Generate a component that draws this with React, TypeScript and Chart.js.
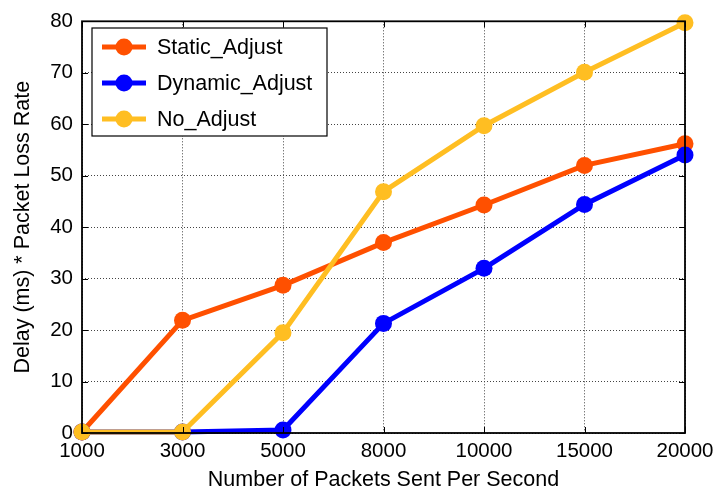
import React, { useEffect, useRef } from "react";
import { Chart, registerables } from "chart.js";

Chart.register(...registerables);

const categories = ["1000", "3000", "5000", "8000", "10000", "15000", "20000"];
const staticAdjust = [0.2, 21.9, 28.7, 37.0, 44.3, 52.0, 56.2];
const dynamicAdjust = [0.2, 0.2, 0.6, 21.3, 32.0, 44.4, 54.0];
const noAdjust = [0.2, 0.2, 19.5, 46.9, 59.7, 70.1, 79.7];
const seriesNames = ["Static_Adjust", "Dynamic_Adjust", "No_Adjust"];
const seriesColors = ["#ff5000", "#0000ff", "#ffbe22"];

const FONT = "'Liberation Sans', Arial, sans-serif";
const TICK_SIZE = 20.5;
const LABEL_SIZE = 21.5;

const framePlugin = {
  id: "frame",
  afterDatasetsDraw(chart: any) {
    const { ctx, chartArea } = chart;
    const { left, right, top, bottom } = chartArea;
    const xs = chart.scales.x;
    const ys = chart.scales.y;
    ctx.save();
    ctx.strokeStyle = "#000";
    ctx.lineWidth = 1;
    const tl = 6;
    ctx.beginPath();
    xs.ticks.forEach((_: any, i: number) => {
      const x = Math.round(xs.getPixelForTick(i)) + 0.5;
      ctx.moveTo(x, bottom);
      ctx.lineTo(x, bottom - tl);
      ctx.moveTo(x, top);
      ctx.lineTo(x, top + tl);
    });
    ys.ticks.forEach((_: any, i: number) => {
      const y = Math.round(ys.getPixelForTick(i)) + 0.5;
      ctx.moveTo(left, y);
      ctx.lineTo(left + tl, y);
      ctx.moveTo(right, y);
      ctx.lineTo(right - tl, y);
    });
    ctx.stroke();
    ctx.lineWidth = 1.8;
    ctx.strokeRect(left, top, right - left, bottom - top);
    ctx.restore();
  },
};

const legendPlugin = {
  id: "boxLegend",
  afterDraw(chart: any) {
    const { ctx } = chart;
    const x0 = 92;
    const y0 = 28;
    const w = 235;
    const h = 108;
    ctx.save();
    ctx.fillStyle = "#fff";
    ctx.fillRect(x0, y0, w, h);
    ctx.strokeStyle = "#000";
    ctx.lineWidth = 1.2;
    ctx.strokeRect(x0, y0, w, h);
    chart.data.datasets.forEach((ds: any, i: number) => {
      const cy = y0 + 19 + i * 36;
      ctx.strokeStyle = ds.borderColor;
      ctx.lineWidth = 5;
      ctx.beginPath();
      ctx.moveTo(102, cy);
      ctx.lineTo(146, cy);
      ctx.stroke();
      ctx.fillStyle = ds.borderColor;
      ctx.beginPath();
      ctx.arc(124, cy, 8.5, 0, Math.PI * 2);
      ctx.fill();
      ctx.fillStyle = "#000";
      ctx.font = `${LABEL_SIZE}px ${FONT}`;
      ctx.textBaseline = "middle";
      ctx.textAlign = "left";
      ctx.fillText(ds.label, 157, cy + 1);
    });
    ctx.restore();
  },
};

export default function App() {
  const ref = useRef<HTMLCanvasElement | null>(null);
  useEffect(() => {
    if (!ref.current) return;
    const series = [staticAdjust, dynamicAdjust, noAdjust];
    const orders = [2, 1, 0];
    const chart = new Chart(ref.current, {
      type: "line",
      data: {
        labels: categories,
        datasets: series.map((d, i) => ({
          label: seriesNames[i],
          data: d,
          borderColor: seriesColors[i],
          backgroundColor: seriesColors[i],
          pointBackgroundColor: seriesColors[i],
          pointBorderColor: seriesColors[i],
          borderWidth: 5,
          pointRadius: 8.5,
          pointBorderWidth: 0,
          tension: 0,
          clip: false as any,
          order: orders[i],
        })),
      },
      options: {
        animation: false,
        responsive: false,
        maintainAspectRatio: false,
        layout: { padding: { top: 20, right: 31, left: 0, bottom: 0 } },
        plugins: {
          legend: { display: false },
          tooltip: { enabled: false },
        },
        scales: {
          x: {
            type: "category",
            offset: false,
            grid: {
              color: "#444",
              lineWidth: 1,
              drawTicks: false,
            },
            border: { display: false, dash: [1, 2] },
            ticks: {
              color: "#000",
              font: { family: FONT, size: TICK_SIZE },
              padding: 6,
              maxRotation: 0,
              autoSkip: false,
            },
            title: {
              display: true,
              text: "Number of Packets Sent Per Second",
              color: "#000",
              font: { family: FONT, size: LABEL_SIZE },
              padding: { top: 0, bottom: 1 },
            },
            afterFit(scale: any) {
              scale.height = 61;
              scale.paddingLeft = 0;
              scale.paddingRight = 0;
            },
          },
          y: {
            min: 0,
            max: 80,
            grid: {
              color: "#444",
              lineWidth: 1,
              drawTicks: false,
            },
            border: { display: false, dash: [1, 2] },
            ticks: {
              stepSize: 10,
              color: "#000",
              font: { family: FONT, size: TICK_SIZE },
              padding: 9,
            },
            title: {
              display: true,
              text: "Delay (ms) * Packet Loss Rate",
              color: "#000",
              font: { family: FONT, size: LABEL_SIZE },
              padding: { top: 10, bottom: 0 },
            },
            afterFit(scale: any) {
              scale.width = 82;
            },
          },
        },
      },
      plugins: [framePlugin, legendPlugin],
    });
    return () => chart.destroy();
  }, []);
  return (
    <div style={{ position: "absolute", left: 0, top: 0, width: 716, height: 494, background: "#fff" }}>
      <canvas ref={ref} width={716} height={494} style={{ width: 716, height: 494 }} />
    </div>
  );
}
